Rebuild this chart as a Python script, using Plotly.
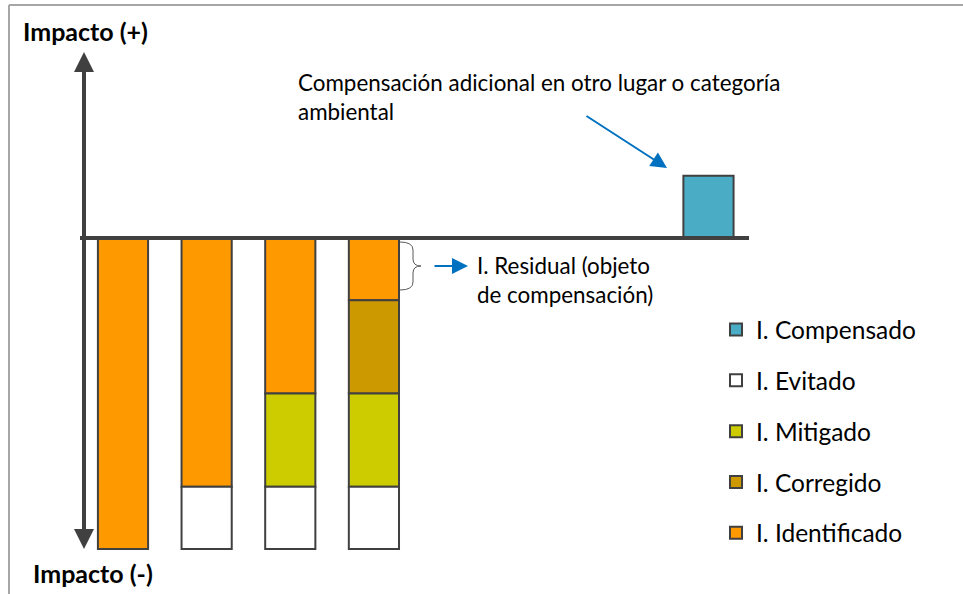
import plotly.graph_objects as go

W, H = 963, 594

# ---- data ----
positions = [0, 1, 2, 3, 4, 5, 6, 7]
identificado = [-10, -8, -5, -2, None, None, None, None]
corregido = [None, None, None, -3, None, None, None, None]
mitigado = [None, None, -3, -3, None, None, None, None]
evitado = [None, -2, -2, -2, None, None, None, None]
compensado = [None, None, None, None, None, None, None, 2]

series_names = ["I. Identificado", "I. Corregido", "I. Mitigado", "I. Evitado", "I. Compensado"]
series_values = [identificado, corregido, mitigado, evitado, compensado]
series_colors = ["#FF9900", "#CC9900", "#CCCC00", "#FFFFFF", "#4BACC6"]
legend_ranks = [5, 4, 3, 2, 1]

# ---- pixel <-> data mapping ----
X0_PX, X_STEP = 123.0, 83.64
Y0_PX, Y_STEP = 238.0, 31.1


def dx(px):
    return (px - X0_PX) / X_STEP


def dy(py):
    return (Y0_PX - py) / Y_STEP


def pxp(px):
    return px / W


def pyp(py):
    return 1 - py / H


FONT = "Lato, 'Open Sans', sans-serif"

fig = go.Figure()
for name, vals, col, rk in zip(series_names, series_values, series_colors, legend_ranks):
    fig.add_trace(go.Bar(
        x=positions, y=vals, name=name, width=0.6,
        marker=dict(color=col, line=dict(color="#404040", width=2)),
        legendgroup=name, legendrank=rk,
    ))

shapes = []
# outer frame lines
shapes.append(dict(type="line", xref="paper", yref="paper", x0=pxp(9), x1=1, y0=pyp(5), y1=pyp(5),
                   line=dict(color="#A6A6A6", width=2)))
shapes.append(dict(type="line", xref="paper", yref="paper", x0=pxp(9), x1=pxp(9), y0=pyp(5), y1=0,
                   line=dict(color="#A6A6A6", width=2)))
# baseline
shapes.append(dict(type="line", xref="x", yref="y", x0=dx(80), x1=dx(749), y0=0, y1=0,
                   line=dict(color="#404040", width=4), layer="above"))


# brace
def P(px, py):
    return f"{dx(px):.4f},{dy(py):.4f}"


brace = (f"M {P(400,242)} Q {P(413,242)} {P(413,250)} L {P(413,259)} Q {P(413,266)} {P(421,266)} "
         f"Q {P(413,266)} {P(413,273)} L {P(413,282)} Q {P(413,290)} {P(400,290)}")
shapes.append(dict(type="path", xref="x", yref="y", path=brace, line=dict(color="#595959", width=1)))

annotations = []
# vertical axis arrows
annotations.append(dict(x=dx(84), y=dy(52), ax=dx(84), ay=dy(300), xref="x", yref="y", axref="x", ayref="y",
                        showarrow=True, arrowhead=2, arrowsize=1, arrowwidth=4, arrowcolor="#404040", text=""))
annotations.append(dict(x=dx(84), y=dy(549), ax=dx(84), ay=dy(240), xref="x", yref="y", axref="x", ayref="y",
                        showarrow=True, arrowhead=2, arrowsize=1, arrowwidth=4, arrowcolor="#404040", text=""))
# blue arrows
annotations.append(dict(x=dx(667), y=dy(168), ax=-82, ay=-53, xref="x", yref="y",
                        showarrow=True, arrowhead=2, arrowsize=1.6, arrowwidth=2, arrowcolor="#0070C0", text=""))
annotations.append(dict(x=dx(468), y=dy(266), ax=-35, ay=0, xref="x", yref="y",
                        showarrow=True, arrowhead=2, arrowsize=1.6, arrowwidth=2, arrowcolor="#0070C0", text=""))

# texts
annotations.append(dict(x=pxp(21), y=pyp(31), xref="paper", yref="paper", xanchor="left", yanchor="middle",
                        text="<b>Impacto (+)</b>", showarrow=False, font=dict(family=FONT, size=25, color="#000")))
annotations.append(dict(x=pxp(31), y=pyp(573), xref="paper", yref="paper", xanchor="left", yanchor="middle",
                        text="<b>Impacto (-)</b>", showarrow=False, font=dict(family=FONT, size=25, color="#000")))
annotations.append(dict(x=pxp(296), y=pyp(97), xref="paper", yref="paper", xanchor="left", yanchor="middle",
                        text="Compensación adicional en otro lugar o categoría<br>ambiental", align="left",
                        showarrow=False, font=dict(family=FONT, size=22.4, color="#000")))
annotations.append(dict(x=pxp(475), y=pyp(280), xref="paper", yref="paper", xanchor="left", yanchor="middle",
                        text="I. Residual (objeto<br>de compensación)", align="left",
                        showarrow=False, font=dict(family=FONT, size=22.4, color="#000")))

fig.update_layout(
    width=W, height=H,
    margin=dict(l=0, r=0, t=0, b=0),
    paper_bgcolor="white", plot_bgcolor="white",
    barmode="relative",
    xaxis=dict(range=[dx(0), dx(W)], visible=False, fixedrange=True),
    yaxis=dict(range=[dy(H), dy(0)], visible=False, fixedrange=True),
    shapes=shapes,
    annotations=annotations,
    showlegend=True,
    legend=dict(traceorder="grouped", tracegroupgap=16, x=pxp(716), y=pyp(307),
                xanchor="left", yanchor="top", font=dict(family=FONT, size=24.5, color="#000"),
                bgcolor="rgba(0,0,0,0)", itemwidth=30),
)

fig.write_html("out.html", config={"displayModeBar": False},
               post_script="document.body.style.margin='0';document.body.style.overflow='hidden';")
